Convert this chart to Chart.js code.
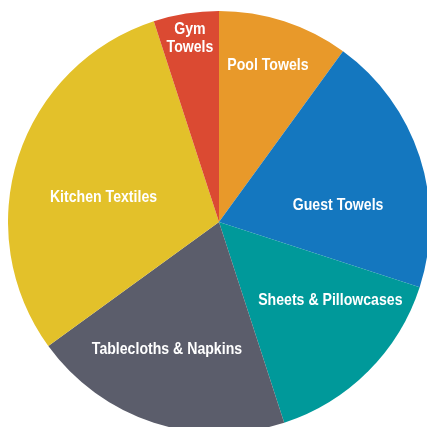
<!DOCTYPE html>
<html>
<head>
<meta charset="utf-8">
<script src="https://cdn.jsdelivr.net/npm/chart.js@4"></script>
<style>
    html, body { margin: 0; padding: 0; background: #ffffff; overflow: hidden; width: 427px; height: 427px; }
    #pieChart { position: absolute; left: 8px; top: 11px; }
</style>
</head>
<body>
<canvas id="pieChart" width="422" height="422"></canvas>
<script>
// Chart data
var categories = ["Pool Towels", "Guest Towels", "Sheets & Pillowcases", "Tablecloths & Napkins", "Kitchen Textiles", "Gym Towels"];
var shares = [10, 20, 15, 20, 30, 5];
var sliceColors = ["#E8992A", "#1477BF", "#00999A", "#5B5D6B", "#E3C12A", "#DB4A32"];

// label placement: [radius fraction, angle shift in degrees]
var labelPlacement = [[0.78, -0.7], [0.57, 9.9], [0.645, -9.9], [0.65, 4.3], [0.56, -5.8], [0.88, 0]];

// narrow bold text: Liberation Sans squeezed horizontally
function drawNarrow(ctx, text, x, y) {
    ctx.save();
    ctx.translate(x, y);
    ctx.scale(0.83, 1);
    ctx.fillText(text, 0, 0);
    ctx.restore();
}

var sliceLabels = {
    id: "sliceLabels",
    afterDatasetsDraw: function (chart) {
        var ctx = chart.ctx;
        var meta = chart.getDatasetMeta(0);
        ctx.save();
        ctx.fillStyle = "#ffffff";
        ctx.font = "bold 17px 'Liberation Sans', Arial, sans-serif";
        ctx.textAlign = "center";
        ctx.textBaseline = "middle";
        meta.data.forEach(function (arc, i) {
            var p = arc.getProps(["x", "y", "startAngle", "endAngle", "outerRadius"], true);
            var mid = (p.startAngle + p.endAngle) / 2 + labelPlacement[i][1] * Math.PI / 180;
            var r = p.outerRadius * labelPlacement[i][0];
            var x = p.x + Math.cos(mid) * r;
            var y = p.y + Math.sin(mid) * r;
            var name = categories[i];
            if (name === "Gym Towels") {
                drawNarrow(ctx, "Gym", x, y - 9);
                drawNarrow(ctx, "Towels", x, y + 9);
            } else {
                drawNarrow(ctx, name, x, y);
            }
        });
        ctx.restore();
    }
};

new Chart(document.getElementById("pieChart").getContext("2d"), {
    type: "pie",
    data: {
        labels: categories,
        datasets: [
            {
                data: shares,
                backgroundColor: sliceColors,
                borderWidth: 0,
                hoverOffset: 0
            }
        ]
    },
    options: {
        responsive: false,
        animation: false,
        layout: { padding: 0 },
        plugins: {
            legend: { display: false },
            tooltip: { enabled: false }
        }
    },
    plugins: [sliceLabels]
});
</script>
</body>
</html>
